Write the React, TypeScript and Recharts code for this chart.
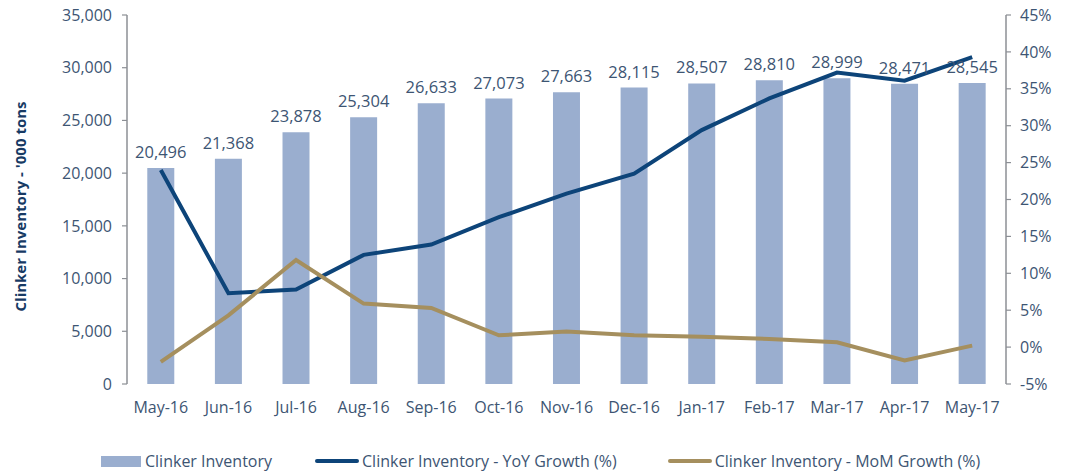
import {
  ComposedChart,
  Bar,
  Line,
  XAxis,
  YAxis,
  Legend,
  LabelList,
} from "recharts";

const months = [
  "May-16", "Jun-16", "Jul-16", "Aug-16", "Sep-16", "Oct-16", "Nov-16",
  "Dec-16", "Jan-17", "Feb-17", "Mar-17", "Apr-17", "May-17",
];
const inventory = [
  20496, 21368, 23878, 25304, 26633, 27073, 27663, 28115, 28507, 28810, 28999,
  28471, 28545,
];
const yoyGrowth = [
  24.0, 7.3, 7.8, 12.5, 13.9, 17.6, 20.8, 23.5, 29.4, 33.7, 37.2, 36.1, 39.3,
];
const momGrowth = [
  -2.0, 4.3, 11.8, 5.9, 5.3, 1.6, 2.1, 1.6, 1.4, 1.1, 0.65, -1.8, 0.2,
];
const leftTicks = [0, 5000, 10000, 15000, 20000, 25000, 30000, 35000];
const rightTicks = [-5, 0, 5, 10, 15, 20, 25, 30, 35, 40, 45];
const boundaryTicks = [0, 1, 2, 3, 4, 5, 6, 7, 8, 9, 10, 11, 12, 13];

const data = months.map((m, i) => ({
  month: m,
  inventory: inventory[i],
  yoy: yoyGrowth[i],
  mom: momGrowth[i],
}));

const FONT = "'Open Sans', sans-serif";
const TEXT = "#3d5573";
const AXIS = "#8c8f95";
const BAR = "#9aaecf";
const YOY = "#0d4479";
const MOM = "#a58f5e";

const fmt = (v: number) => v.toLocaleString("en-US");

function AxisTitle(props: any) {
  const { viewBox } = props;
  const cx = viewBox.x + 20;
  const cy = viewBox.y + viewBox.height / 2 + 7;
  return (
    <text
      x={cx}
      y={cy}
      transform={`rotate(-90, ${cx}, ${cy})`}
      textAnchor="middle"
      dominantBaseline="central"
      fill="#173a64"
      fontSize={15}
      fontWeight={700}
      fontFamily={FONT}
    >
      Clinker Inventory - '000 tons
    </text>
  );
}

function LegendContent() {
  const items = [
    { name: "Clinker Inventory", kind: "bar", color: BAR, gap: 0 },
    { name: "Clinker Inventory - YoY Growth (%)", kind: "line", color: YOY, gap: 43 },
    { name: "Clinker Inventory - MoM Growth (%)", kind: "line", color: MOM, gap: 51 },
  ];
  return (
    <div
      style={{
        display: "flex",
        alignItems: "center",
        paddingLeft: 101,
        fontFamily: FONT,
        fontSize: 16,
        color: TEXT,
        height: 30,
      }}
    >
      {items.map((it) => (
        <div
          key={it.name}
          style={{ display: "flex", alignItems: "center", marginLeft: it.gap }}
        >
          {it.kind === "bar" ? (
            <span style={{ width: 40, height: 11, background: it.color, marginRight: 4 }} />
          ) : (
            <span
              style={{
                width: 44,
                height: 4,
                borderRadius: 2,
                background: it.color,
                marginRight: 3,
              }}
            />
          )}
          <span>{it.name}</span>
        </div>
      ))}
    </div>
  );
}

export default function App() {
  return (
    <div style={{ position: "absolute", left: 0, top: 0, background: "#fff" }}>
      <ComposedChart
        width={1066}
        height={474}
        data={data}
        margin={{ top: 15, right: 0, bottom: 0, left: 0 }}
        barCategoryGap="30%"
      >
        <XAxis
          xAxisId="bounds"
          type="number"
          domain={[0, 13]}
          ticks={boundaryTicks}
          height={0}
          tick={false}
          tickSize={6}
          axisLine={{ stroke: AXIS, strokeWidth: 1.5 }}
          tickLine={{ stroke: AXIS, strokeWidth: 1.2 }}
        />
        <XAxis
          dataKey="month"
          height={60}
          axisLine={false}
          tickLine={false}
          tickMargin={12}
          interval={0}
          tick={{ fill: TEXT, fontSize: 16, fontFamily: FONT }}
        />
        <YAxis
          yAxisId="left"
          width={127}
          domain={[0, 35000]}
          ticks={leftTicks}
          tickFormatter={fmt}
          tickSize={5}
          tickMargin={10}
          axisLine={{ stroke: AXIS, strokeWidth: 1.5 }}
          tickLine={{ stroke: AXIS, strokeWidth: 1.2 }}
          tick={{ fill: TEXT, fontSize: 16, fontFamily: FONT }}
          label={<AxisTitle />}
        />
        <YAxis
          yAxisId="right"
          orientation="right"
          width={60}
          domain={[-5, 45]}
          ticks={rightTicks}
          tickFormatter={(v: number) => `${v}%`}
          tickSize={5}
          tickMargin={9}
          axisLine={{ stroke: AXIS, strokeWidth: 1.5 }}
          tickLine={{ stroke: AXIS, strokeWidth: 1.2 }}
          tick={{ fill: TEXT, fontSize: 16, fontFamily: FONT }}
        />
        <Bar
          yAxisId="left"
          dataKey="inventory"
          name="Clinker Inventory"
          fill={BAR}
          isAnimationActive={false}
        >
          <LabelList
            dataKey="inventory"
            position="top"
            offset={10}
            formatter={(v: any) => fmt(Number(v))}
            style={{ fill: TEXT, fontSize: 16.5, fontFamily: FONT }}
          />
        </Bar>
        <Line
          yAxisId="right"
          dataKey="yoy"
          name="Clinker Inventory - YoY Growth (%)"
          stroke={YOY}
          strokeWidth={4}
          dot={false}
          type="linear"
          isAnimationActive={false}
        />
        <Line
          yAxisId="right"
          dataKey="mom"
          name="Clinker Inventory - MoM Growth (%)"
          stroke={MOM}
          strokeWidth={4}
          dot={false}
          type="linear"
          isAnimationActive={false}
        />
        <Legend
          height={30}
          content={<LegendContent />}
          wrapperStyle={{ left: 0, top: 446, width: 1066 }}
        />
      </ComposedChart>
    </div>
  );
}
